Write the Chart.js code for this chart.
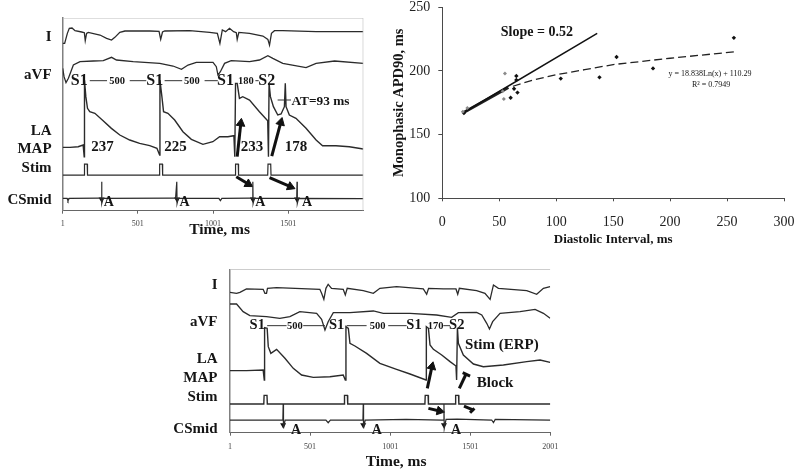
<!DOCTYPE html>
<html><head><meta charset="utf-8">
<style>
html,body{margin:0;padding:0;background:#fff;width:800px;height:472px;overflow:hidden}
canvas{position:absolute;filter:blur(0.45px)}
</style>
<script src="https://cdn.jsdelivr.net/npm/chart.js@4/dist/chart.umd.min.js"></script>
</head><body>
<canvas id="topTraces" width="375" height="245" style="left:0;top:0"></canvas>
<canvas id="restitution" width="430" height="250" style="left:370px;top:0"></canvas>
<canvas id="bottomTraces" width="400" height="210" style="left:165px;top:262px"></canvas>
<script>
// ---------- top-left panel (S1-S2 = 180 ms) ----------
const leadI1T=[1,14,32,45,63,83,127,145,151,160,171,249,293,326,348,381,415,581,642,653,665,680,846,979,1030,1047,1063,1085,1111,1138,1156,1162,1173,1244,1333,1366,1377,1390,1410,1465,1687,1908,2001];
const leadI1V=[502,502,532,547,548,540,536,534,510,532,535,527,517,512,520,535,539,539,538,514,536,539,540,535,532,502,542,537,547,537,534,514,535,532,524,514,497,532,540,540,537,537,537];
const aVF1T=[1,10,23,39,72,116,205,271,326,359,470,647,735,791,835,890,1001,1023,1034,1050,1078,1122,1244,1310,1366,1399,1465,1620,1687,1810,2001];
const aVF1V=[427,402,384,397,437,447,449,450,460,452,447,442,434,424,437,445,445,432,407,417,442,450,447,452,465,457,442,429,442,449,442];
const map1T=[1,49,104,137,144,146,155,166,181,215,270,325,381,447,513,580,628,646,648,661,672,701,746,801,857,934,1000,1045,1100,1140,1146,1151,1162,1177,1199,1244,1310,1365,1370,1374,1383,1403,1432,1454,1476,1482,1487,1509,1553,1620,1687,1730,1819,1908,2001];
const map1V=[190,190,192,197,162,392,342,307,297,292,270,247,227,212,202,195,187,167,392,342,297,292,272,237,214,199,207,222,222,225,162,382,382,337,342,332,297,270,162,382,342,312,287,290,312,382,312,287,277,247,212,195,195,192,185];
const stim1T=[1,144,146,164,166,644,646,664,666,1149,1151,1169,1171,1365,1367,1385,1387,2001];
const stim1V=[107,107,140,140,107,107,140,140,107,107,140,140,107,107,140,140,107,107];
const cs1T=[1,30,36,44,250,258,260,262,270,735,752,760,762,770,1040,1050,1060,1255,1264,1266,1268,1276,1550,1558,1560,1562,1570,2001];
const cs1V=[37,37,30,37,38,38,87,22,37,38,38,87,22,37,37,30,37,38,38,87,22,37,37,37,87,22,37,36];
const csHeads1T=[260,762,1266,1560];
const csHeads1V=[34,34,34,34];
const ticks1=[1,501,1001,1501];
const labels1=[
 ['I',-73,522,'b15','right'],['aVF',-73,407,'b15','right'],['LA',-73,240,'b15','right'],['MAP',-73,184,'b15','right'],['Stim',-73,127,'b15','right'],['CSmid',-73,32,'b15','right'],
 ['S1',111,390,'b16'],['500',363,387,'b10.5'],['S1',613,390,'b16'],['500',860,387,'b10.5'],['S1',1084,390,'b16'],['180',1220,387,'b10.5'],['S2',1359,390,'b16'],
 ['AT=93 ms',1716,327,'b13.3'],['237',265,192,'b15'],['225',752,192,'b15'],['233',1260,192,'b15'],['178',1553,192,'b15'],
 ['A',308,24,'b14'],['A',812,24,'b14'],['A',1315,24,'b14'],['A',1627,24,'b14'],
 ['Time, ms',1045,-57,'b15.5']];
const gaps1T=[181,296,null,447,557,null,679,796,null,945,1033,null,1283,1305,null,1431,1520];
const gaps1V=[390,390,null,390,390,null,390,390,null,390,390,null,390,390,null,332,332];

// ---------- restitution scatter ----------
const diBlack=[256,153,185,138,104,66,60,63,65,65,19];
const apdBlack=[226,211,202,195,194,183,179,186,196,193,167];
const diGray=[55,54,53,18,22];
const apdGray=[198,178,184,168,171];
const slopeDI=[18,136];
const slopeAPD=[167,229.5];
const overlapDI=[18,58];
const overlapAPD=[167,187];
const fitDI=[62,80,100,125,150,200,256];
const fitAPD=[188,193,197,201,205,210,215];

// ---------- bottom panel (S1-S2 = 170 ms) ----------
const leadI3T=[1,42,63,104,208,219,229,235,292,562,573,587,600,614,635,708,721,733,833,896,937,1041,1208,1229,1241,1333,1412,1423,1433,1541,1593,1625,1646,1677,1854,1916,1958,2000];
const leadI3V=[421,418,421,431,430,418,418,433,435,430,418,400,433,445,433,430,413,433,426,418,433,438,431,415,433,431,431,415,433,426,418,400,443,433,426,415,433,438];
const aVF3T=[1,42,83,125,229,312,375,437,542,573,594,614,646,750,896,958,1125,1291,1385,1427,1541,1573,1604,1621,1641,1687,1812,1906,1958,2000];
const aVF3V=[386,386,363,351,348,343,348,363,358,340,308,333,360,360,365,358,358,353,346,360,361,353,328,311,333,358,363,370,358,343];
const map3T=[1,104,208,215,217,233,240,256,292,344,396,448,521,625,708,721,725,740,750,781,854,937,1041,1125,1225,1227,1240,1250,1271,1323,1375,1412,1416,1421,1427,1458,1521,1583,1708,1854,1937,2000];
const map3V=[186,186,188,158,315,313,258,238,250,223,193,173,166,168,173,158,318,313,268,260,238,208,190,176,158,318,313,263,250,233,213,200,158,315,268,233,206,198,203,213,218,211];
const stim3T=[1,212,214,232,234,714,716,734,736,1218,1220,1238,1240,1408,1410,1428,1430,2001];
const stim3V=[86,86,112,112,86,86,112,112,86,86,112,112,86,86,112,112,86,86];
const cs3T=[1,320,331,333,335,345,600,614,628,820,831,833,835,845,1100,1325,1335,1337,1339,1350,1420,1635,1646,1657,2001];
const cs3V=[38,38,38,86,13,38,38,30,38,38,38,86,13,38,40,38,38,86,13,40,41,38,30,40,38];
const csHeads3T=[333,833,1337];
const csHeads3V=[23,23,23];
const ticks3=[1,501,1001,1501,2001];
const labels3=[
 ['I',-77,443,'b15','right'],['aVF',-77,331,'b15','right'],['LA',-77,220,'b15','right'],['MAP',-77,165,'b15','right'],['Stim',-77,108,'b15','right'],['CSmid',-77,11,'b15','right'],
 ['S1',171,321,'b14.5'],['500',406,318,'b10.5'],['S1',667,321,'b14.5'],['500',923,318,'b10.5'],['S1',1150,321,'b14.5'],['170',1285,318,'b10.5'],['S2',1417,321,'b14.5'],
 ['Stim (ERP)',1698,262,'b15'],['Block',1656,150,'b15'],
 ['A',413,6,'b14'],['A',917,6,'b14'],['A',1413,6,'b14'],
 ['Time, ms',1038,-87,'b15.5']];
const gaps3T=[233,354,null,458,594,null,729,854,null,989,1104,null,1333,1375];
const gaps3V=[321,321,null,321,321,null,321,321,null,321,321,null,321,321];

const INK='#2b2b2b', AXIS='#666', FRAME='#bdbdbd', SERIF='"Liberation Serif","Times New Roman",serif';
const pts=(xs,ys)=>xs.map((x,i)=>({x:x,y:ys[i]}));
const trace=(xs,ys,w,c)=>({data:pts(xs,ys),borderColor:c||INK,borderWidth:w||1.3,pointRadius:0,tension:0,fill:false,spanGaps:false});
const arrow=(x1,y1,x2,y2,rot,w)=>({data:[{x:x1,y:y1},{x:x2,y:y2}],borderColor:'#111',borderWidth:w||3,tension:0,
  pointRadius:[0,5],pointStyle:'triangle',pointRotation:[0,rot],pointBackgroundColor:'#111',pointBorderColor:'#111',pointBorderWidth:1,clip:false});
const heads=(xs,ys)=>({data:pts(xs,ys),showLine:false,pointStyle:'triangle',pointRotation:180,pointRadius:3.5,pointBackgroundColor:'#111',pointBorderColor:'#111',pointBorderWidth:0});
const fontOf=k=>(k[0]==='b'?'bold ':'')+k.slice(1)+'px '+SERIF;
const annotate=list=>({id:'annot',afterDatasetsDraw(ch){
  const c=ch.ctx,X=ch.scales.x,Y=ch.scales.y;c.save();c.fillStyle='#151515';c.textBaseline='middle';
  list.forEach(l=>{c.font=fontOf(l[3]);c.textAlign=l[4]||'center';c.fillText(l[0],X.getPixelForValue(l[1]),Y.getPixelForValue(l[2]));});
  c.restore();}});
const fixX=h=>s=>{s.height=h;s.paddingLeft=0;s.paddingRight=0;};
const fixY=w=>s=>{s.width=w;s.paddingTop=0;s.paddingBottom=0;};

function traceChart(id,xMax,yMax,tickVals,pad,h,tickPad,datasets,labels){
  return new Chart(document.getElementById(id),{type:'line',data:{datasets},plugins:[annotate(labels)],options:{
    responsive:false,animation:false,layout:{padding:pad},
    plugins:{legend:{display:false},tooltip:{enabled:false}},
    scales:{
      x:{type:'linear',min:1,max:xMax,afterBuildTicks:a=>{a.ticks=tickVals.map(v=>({value:v}));},afterFit:fixX(h),
        grid:{display:true,drawOnChartArea:false,tickLength:3,tickColor:AXIS},border:{color:AXIS,width:1},
        ticks:{autoSkip:false,maxRotation:0,padding:tickPad,color:'#444',font:{family:SERIF,size:8},callback:v=>String(v)}},
      y:{type:'linear',min:0,max:yMax,afterFit:fixY(0),ticks:{display:false},grid:{display:false},border:{color:'#808080',width:1.5}}
    }}});
}

traceChart('topTraces',2001,578,ticks1,{left:62.7,top:18,right:11.7,bottom:5.4},28.9,5,[
  trace([1,2001,2001],[578,578,0],1.2,FRAME),
  trace(leadI1T,leadI1V),trace(aVF1T,aVF1V),trace(map1T,map1V,1.4),trace(stim1T,stim1V,1.2),trace(cs1T,cs1V,1.2),
  trace(gaps1T,gaps1V,1,'#333'),heads(csHeads1T,csHeads1V),
  arrow(1162,162,1186,262,7),arrow(1392,164,1452,265,15),
  arrow(1156,102,1236,80,121),arrow(1377,99,1516,72,113)
],labels1);

traceChart('bottomTraces',2001,490,ticks3,{left:65,top:7.3,right:14.7,bottom:0.7},38.6,6,[
  trace([1,2001],[490,490],1.2,FRAME),
  trace(leadI3T,leadI3V),trace(aVF3T,aVF3V),trace(map3T,map3V,1.4),trace(stim3T,stim3V,1.4),trace(cs3T,cs3V,1.2),
  trace(gaps3T,gaps3V,1,'#333'),heads(csHeads3T,csHeads3V),
  arrow(1233,133,1262,198,13),arrow(1240,73,1310,65,102),
  trace([1433,1475],[133,176],3,'#111'),trace([1454,1500],[180,170],3,'#111'),
  trace([1462,1521],[80,68],3,'#111'),trace([1500,1527],[60,73],3,'#111')
],labels3);

new Chart(document.getElementById('restitution'),{type:'scatter',data:{datasets:[
  {data:pts(diGray,apdGray),pointStyle:'rectRot',pointRadius:2,pointBackgroundColor:'#8a8a8a',pointBorderColor:'#8a8a8a',pointBorderWidth:0},
  {data:pts(diBlack,apdBlack),pointStyle:'rectRot',pointRadius:2.2,pointBackgroundColor:'#111',pointBorderColor:'#111',pointBorderWidth:0},
  {data:pts(slopeDI,slopeAPD),showLine:true,borderColor:'#111',borderWidth:1.5,pointRadius:0},
  {data:pts(overlapDI,overlapAPD),showLine:true,borderColor:'#222',borderWidth:3,pointRadius:0},
  {data:pts(fitDI,fitAPD),showLine:true,borderColor:'#222',borderWidth:1.3,borderDash:[8,4],pointRadius:0,tension:0}
]},plugins:[{id:'scatterNotes',afterDatasetsDraw(ch){
  const c=ch.ctx,X=ch.scales.x,Y=ch.scales.y;c.save();c.fillStyle='#151515';c.textAlign='center';c.textBaseline='middle';
  c.font=fontOf('b14');c.fillText('Slope = 0.52',X.getPixelForValue(83),Y.getPixelForValue(230.6));
  c.font=fontOf('n8');c.fillText('y = 18.838Ln(x) + 110.29',X.getPixelForValue(235),Y.getPixelForValue(197.8));
  c.fillText('R² = 0.7949',X.getPixelForValue(236),Y.getPixelForValue(188.8));
  c.restore();}}],options:{
  responsive:false,animation:false,layout:{padding:{left:20.3,top:7.3,right:16,bottom:2.2}},
  plugins:{legend:{display:false},tooltip:{enabled:false}},
  scales:{
    x:{type:'linear',min:0,max:300,afterFit:fixX(49.5),
      ticks:{stepSize:50,padding:13,color:'#222',font:{family:SERIF,size:14},maxRotation:0},
      grid:{display:true,drawOnChartArea:false,tickLength:3,tickColor:'#4a4a4a'},border:{color:'#4a4a4a',width:1},
      title:{display:true,text:'Diastolic Interval, ms',color:'#151515',padding:0,font:{family:SERIF,size:13,weight:'bold'}}},
    y:{type:'linear',min:100,max:250,afterFit:fixY(52),
      ticks:{stepSize:50,padding:8,color:'#222',font:{family:SERIF,size:14}},
      grid:{display:true,drawOnChartArea:false,tickLength:4,tickColor:'#4a4a4a'},border:{color:'#4a4a4a',width:1},
      title:{display:true,text:'Monophasic APD90, ms',color:'#151515',padding:0,font:{family:SERIF,size:14.5,weight:'bold'}}}
  }}});
</script>
</body></html>
